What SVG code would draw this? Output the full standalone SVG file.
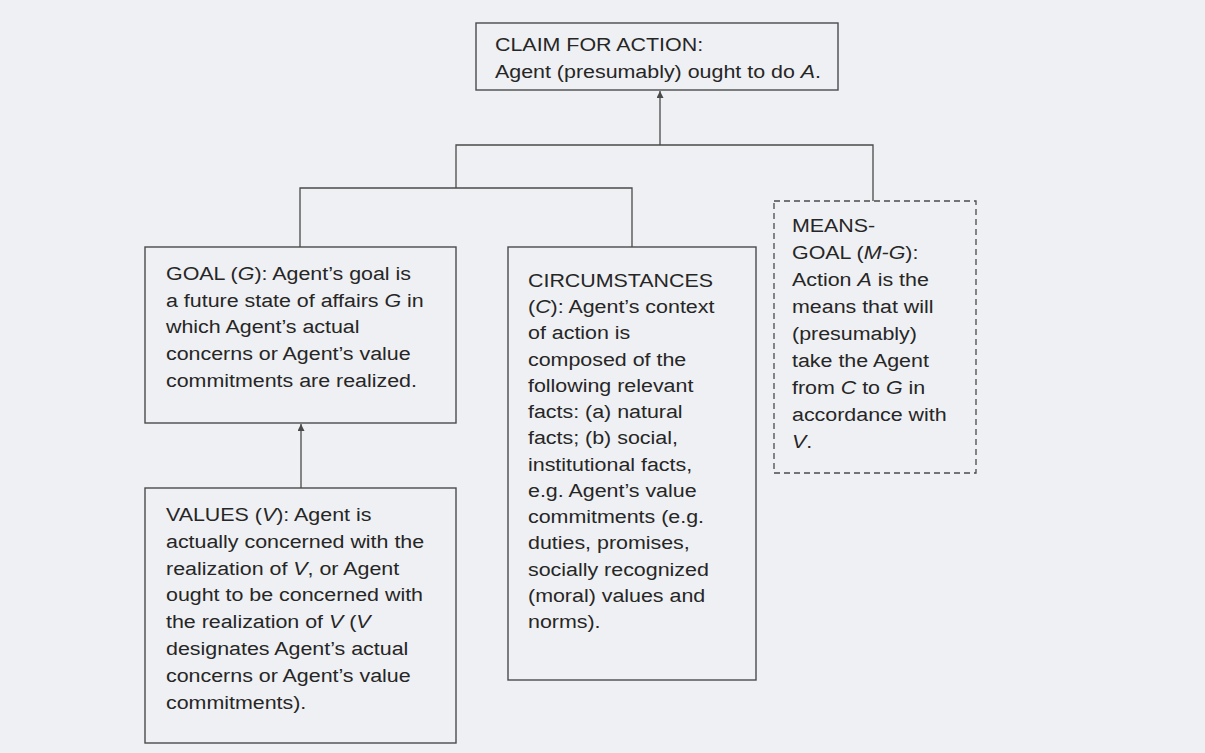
<svg xmlns="http://www.w3.org/2000/svg" width="1205" height="753" viewBox="0 0 1205 753">
<style>
.box{fill:none;stroke:#4a4a4a;stroke-width:1.4}
.dash{fill:none;stroke:#4a4a4a;stroke-width:1.3;stroke-dasharray:6 4}
.ln{fill:none;stroke:#4a4a4a;stroke-width:1.3}
.t{font-family:"Liberation Sans",Arial,Helvetica,sans-serif;font-size:18px;fill:#262626}
.i{font-style:italic}
</style>
<defs>
<marker id="ah" viewBox="0 0 10 10" refX="10" refY="5" markerWidth="7" markerHeight="7" orient="auto" markerUnits="userSpaceOnUse">
<path d="M0,0 L10,5 L0,10 Z" fill="#4a4a4a"/>
</marker>
</defs>
<rect width="1205" height="753" fill="#eff0f3"/>
<g id="connectors">
<path class="ln" d="M456,188 V145 H873 V201"/>
<path class="ln" d="M660,145 V91" marker-end="url(#ah)"/>
<path class="ln" d="M300,247 V188 H632 V247"/>
<path class="ln" d="M301,488 V424" marker-end="url(#ah)"/>
</g>
<g id="claim">
<rect class="box" x="476" y="23" width="362" height="67"/>
<text class="t" transform="translate(495,51) scale(1.19,1)"><tspan x="0">CLAIM FOR ACTION:</tspan><tspan x="0" dy="26.7">Agent (presumably) ought to do <tspan class="i">A</tspan>.</tspan></text>
</g>
<g id="goal">
<rect class="box" x="145" y="247" width="311" height="176"/>
<text class="t" transform="translate(166,280) scale(1.19,1)"><tspan x="0">GOAL (<tspan class="i">G</tspan>): Agent’s goal is</tspan><tspan x="0" dy="26.7">a future state of affairs <tspan class="i">G</tspan> in</tspan><tspan x="0" dy="26.7">which Agent’s actual</tspan><tspan x="0" dy="26.7">concerns or Agent’s value</tspan><tspan x="0" dy="26.7">commitments are realized.</tspan></text>
</g>
<g id="values">
<rect class="box" x="145" y="488" width="311" height="255"/>
<text class="t" transform="translate(166,521) scale(1.19,1)"><tspan x="0">VALUES (<tspan class="i">V</tspan>):  Agent is</tspan><tspan x="0" dy="26.8">actually concerned with the</tspan><tspan x="0" dy="26.8">realization of <tspan class="i">V</tspan>, or Agent</tspan><tspan x="0" dy="26.8">ought to be concerned with</tspan><tspan x="0" dy="26.8">the realization of <tspan class="i">V</tspan> (<tspan class="i">V</tspan></tspan><tspan x="0" dy="26.8">designates Agent’s actual</tspan><tspan x="0" dy="26.8">concerns or Agent’s value</tspan><tspan x="0" dy="26.8">commitments).</tspan></text>
</g>
<g id="circumstances">
<rect class="box" x="508" y="247" width="248" height="433"/>
<text class="t" transform="translate(528,287) scale(1.19,1)"><tspan x="0">CIRCUMSTANCES</tspan><tspan x="0" dy="26.25">(<tspan class="i">C</tspan>): Agent’s context</tspan><tspan x="0" dy="26.25">of action is</tspan><tspan x="0" dy="26.25">composed of the</tspan><tspan x="0" dy="26.25">following relevant</tspan><tspan x="0" dy="26.25">facts: (a) natural</tspan><tspan x="0" dy="26.25">facts; (b) social,</tspan><tspan x="0" dy="26.25">institutional facts,</tspan><tspan x="0" dy="26.25">e.g. Agent’s value</tspan><tspan x="0" dy="26.25">commitments (e.g.</tspan><tspan x="0" dy="26.25">duties, promises,</tspan><tspan x="0" dy="26.25">socially recognized</tspan><tspan x="0" dy="26.25">(moral) values and</tspan><tspan x="0" dy="26.25">norms).</tspan></text>
</g>
<g id="means-goal">
<rect class="dash" x="774" y="201" width="202" height="272"/>
<text class="t" transform="translate(792,232) scale(1.19,1)"><tspan x="0">MEANS-</tspan><tspan x="0" dy="27">GOAL (<tspan class="i">M-G</tspan>):</tspan><tspan x="0" dy="27">Action <tspan class="i">A</tspan> is the</tspan><tspan x="0" dy="27">means that will</tspan><tspan x="0" dy="27">(presumably)</tspan><tspan x="0" dy="27">take the Agent</tspan><tspan x="0" dy="27">from <tspan class="i">C</tspan> to <tspan class="i">G</tspan> in</tspan><tspan x="0" dy="27">accordance with</tspan><tspan x="0" dy="27"><tspan class="i">V</tspan>.</tspan></text>
</g>
</svg>
